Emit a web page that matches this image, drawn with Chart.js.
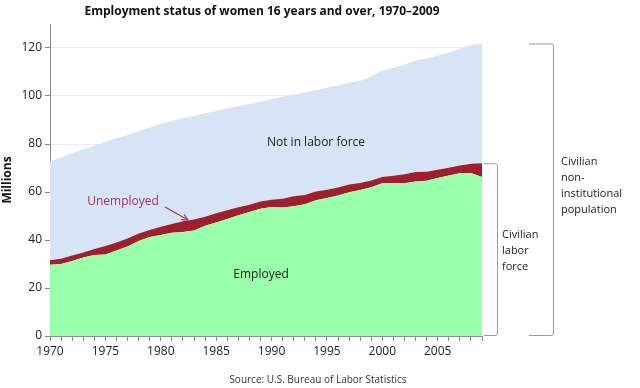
<!DOCTYPE html>
<html>
<head>
<meta charset="utf-8">
<script src="https://cdn.jsdelivr.net/npm/chart.js@4/dist/chart.umd.min.js"></script>
<style>
  html, body { margin: 0; padding: 0; background: #fff; }
  #wrap { width: 640px; height: 388px; position: relative; }
</style>
</head>
<body>
<div id="wrap"><canvas id="chart" width="640" height="388"></canvas></div>
<script>
// Datos (millones) - mujeres de 16 años y más
const years = [1970,1971,1972,1973,1974,1975,1976,1977,1978,1979,1980,1981,1982,1983,1984,1985,1986,1987,1988,1989,
  1990,1991,1992,1993,1994,1995,1996,1997,1998,1999,2000,2001,2002,2003,2004,2005,2006,2007,2008,2009];
const employed = [29.7,30.0,31.3,32.7,33.8,34.0,35.6,37.3,39.6,41.2,42.1,43.0,43.3,44.0,45.9,47.3,48.7,50.3,51.7,53.0,
  53.7,53.5,54.1,54.9,56.6,57.5,58.5,59.9,60.8,62.0,63.6,63.7,63.6,64.4,64.7,65.8,66.9,67.8,67.9,66.2];
const unemployed = [1.9,2.2,2.2,2.1,2.4,3.5,3.4,3.3,3.1,3.0,3.4,3.7,4.5,4.5,3.8,3.8,3.7,3.3,3.0,3.0,
  3.1,3.7,4.1,3.9,3.6,3.4,3.4,3.2,2.9,2.8,2.7,3.1,3.8,3.9,3.7,3.5,3.2,3.2,3.9,5.8];
const notInLaborForce = [41.2,42.1,42.8,43.0,43.1,43.4,43.4,43.2,42.7,42.6,42.9,42.9,43.0,43.2,43.1,42.7,42.4,42.2,42.0,41.6,
  42.0,42.5,42.4,42.7,42.2,42.5,42.5,42.4,42.7,43.2,44.3,45.0,45.6,46.5,47.2,47.6,48.0,48.7,49.3,49.9];
const yTicks = [0, 20, 40, 60, 80, 100, 120];

const FONT = "'Open Sans', 'Liberation Sans', sans-serif";
const COLORS = {
  employed: '#99FFAA',
  unemployed: '#9E1F2E',
  notInLF: '#D7E4F5',
  text: '#222222',
  axis: '#8c8c8c',
  grid: '#ececec'
};

// Anotaciones: título, etiquetas de áreas, flecha, llaves y fuente
const annotations = {
  id: 'annotations',
  afterDraw(chart) {
    const { ctx, scales: { x, y } } = chart;
    const last = years.length - 1;
    ctx.save();

    // Título
    ctx.fillStyle = '#111';
    ctx.font = "bold 12px " + FONT;
    ctx.textAlign = 'center';
    ctx.textBaseline = 'middle';
    ctx.fillText('Employment status of women 16 years and over, 1970\u20132009', 262, 12);

    // Etiquetas de las áreas
    ctx.font = "12px " + FONT;
    ctx.fillStyle = COLORS.text;
    ctx.fillText('Not in labor force', 316, 143);
    ctx.fillText('Employed', 261, 275);
    ctx.fillStyle = '#A0365A';
    ctx.fillText('Unemployed', 123, 202);

    // Flecha hacia la franja de desempleo
    ctx.strokeStyle = '#A0365A';
    ctx.lineWidth = 1.2;
    const ax0 = 165, ay0 = 207, ax1 = 188, ay1 = 220;
    ctx.beginPath(); ctx.moveTo(ax0, ay0); ctx.lineTo(ax1, ay1); ctx.stroke();
    const ang = Math.atan2(ay1 - ay0, ax1 - ax0);
    ctx.beginPath();
    ctx.moveTo(ax1, ay1);
    ctx.lineTo(ax1 - 7 * Math.cos(ang - 0.45), ay1 - 7 * Math.sin(ang - 0.45));
    ctx.moveTo(ax1, ay1);
    ctx.lineTo(ax1 - 7 * Math.cos(ang + 0.45), ay1 - 7 * Math.sin(ang + 0.45));
    ctx.stroke();

    // Llaves
    const yBottom = y.getPixelForValue(0);
    const yLF = y.getPixelForValue(employed[last] + unemployed[last]);
    const yPop = y.getPixelForValue(employed[last] + unemployed[last] + notInLaborForce[last]);
    ctx.strokeStyle = '#9a9a9a';
    ctx.lineWidth = 1;
    function bracket(x0, x1, top, bottom) {
      ctx.beginPath();
      ctx.moveTo(x0, top + 0.5);
      ctx.lineTo(x1 - 2, top + 0.5);
      ctx.quadraticCurveTo(x1 + 0.5, top + 0.5, x1 + 0.5, top + 3);
      ctx.lineTo(x1 + 0.5, bottom - 3);
      ctx.quadraticCurveTo(x1 + 0.5, bottom - 0.5, x1 - 2, bottom - 0.5);
      ctx.lineTo(x0, bottom - 0.5);
      ctx.stroke();
    }
    bracket(484, 497, yLF, yBottom);
    bracket(529, 553, yPop, yBottom);

    ctx.fillStyle = COLORS.text;
    ctx.font = "11px " + FONT;
    ctx.textAlign = 'left';
    ['Civilian', 'labor', 'force'].forEach((t, i) => ctx.fillText(t, 502, 235 + i * 16));
    ['Civilian', 'non-', 'institutional', 'population'].forEach((t, i) => ctx.fillText(t, 561, 162 + i * 16));

    // Fuente
    ctx.font = "10px " + FONT;
    ctx.textAlign = 'center';
    ctx.fillStyle = '#333';
    ctx.fillText('Source: U.S. Bureau of Labor Statistics', 318, 380);
    ctx.restore();
  }
};

const baseDataset = {
  fill: '-1',
  pointRadius: 0,
  pointHoverRadius: 0,
  borderWidth: 0,
  tension: 0
};

new Chart(document.getElementById('chart').getContext('2d'), {
  type: 'line',
  data: {
    labels: years,
    datasets: [
      { ...baseDataset, label: 'Employed', data: employed, backgroundColor: COLORS.employed, borderColor: COLORS.employed, fill: 'origin' },
      { ...baseDataset, label: 'Unemployed', data: unemployed, backgroundColor: COLORS.unemployed, borderColor: COLORS.unemployed },
      { ...baseDataset, label: 'Not in labor force', data: notInLaborForce, backgroundColor: COLORS.notInLF, borderColor: COLORS.notInLF }
    ]
  },
  options: {
    responsive: false,
    animation: false,
    layout: { padding: { top: 24, right: 158, left: 0, bottom: 0 } },
    plugins: {
      legend: { display: false },
      title: { display: false },
      tooltip: { enabled: false }
    },
    scales: {
      x: {
        offset: false,
        afterFit(scale) { scale.height = 52; },
        grid: { display: true, drawOnChartArea: false, drawTicks: true, tickLength: 5, color: COLORS.axis },
        border: { color: COLORS.axis },
        ticks: {
          autoSkip: false,
          maxRotation: 0,
          padding: 3,
          color: COLORS.text,
          font: { family: FONT, size: 12 },
          callback: function(value, index) {
            const yr = years[index];
            return yr % 5 === 0 ? String(yr) : '';
          }
        }
      },
      y: {
        stacked: true,
        min: 0,
        max: 130,
        afterFit(scale) { scale.width = 50; },
        afterBuildTicks(scale) { scale.ticks = yTicks.map(v => ({ value: v })); },
        grid: {
          color: (c) => c.tick && c.tick.value === 0 ? COLORS.axis : COLORS.grid,
          tickColor: COLORS.axis,
          tickLength: 5
        },
        border: { color: COLORS.axis },
        title: {
          display: true,
          text: 'Millions',
          color: '#111',
          font: { family: FONT, size: 12, weight: 'bold' },
          padding: { top: 0, bottom: 0 }
        },
        ticks: {
          color: COLORS.text,
          padding: 3,
          font: { family: FONT, size: 12 }
        }
      }
    }
  },
  plugins: [annotations]
});
</script>
</body>
</html>
